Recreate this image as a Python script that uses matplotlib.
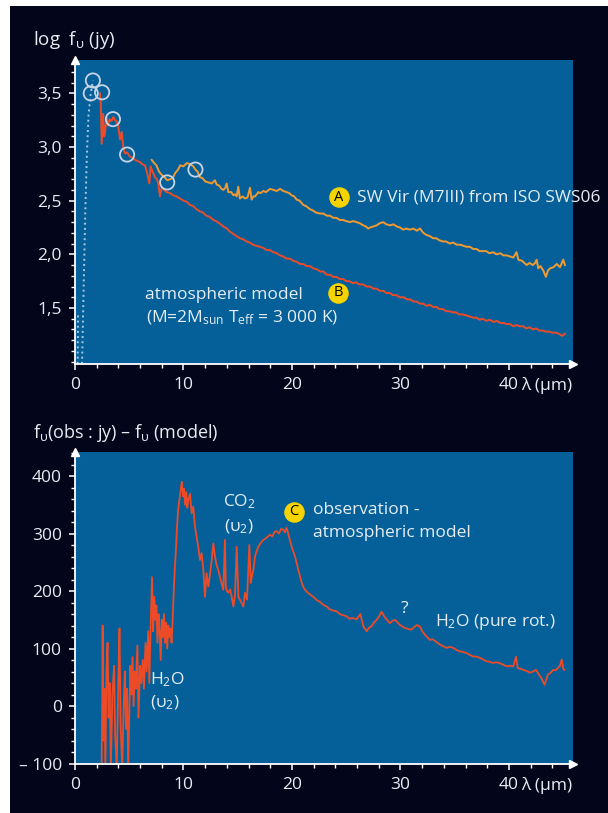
import matplotlib
matplotlib.use("Agg")
import matplotlib.pyplot as plt
from matplotlib.patches import Rectangle

plt.rcParams['font.family'] = ['Open Sans', 'DejaVu Sans']
plt.rcParams['mathtext.fontset'] = 'custom'
plt.rcParams['mathtext.rm'] = 'Open Sans'
plt.rcParams['mathtext.it'] = 'Open Sans:italic'
plt.rcParams['mathtext.bf'] = 'Open Sans:bold'
plt.rcParams['mathtext.default'] = 'regular'

# --- SW Vir, ISO SWS06 spectrum (log f_nu, Jy) ---
obs_wl = [7.07, 7.3, 7.5, 7.75, 8.0, 8.25, 8.5, 8.75, 9.0, 9.25, 9.5, 9.7, 10.0, 10.3,
          10.6, 10.9, 11.1, 11.3, 11.5, 11.75, 12.0, 12.3, 12.6, 12.9, 13.06, 13.3, 13.5,
          13.67, 13.85, 13.98, 14.13, 14.4, 14.6, 14.75, 14.9, 15.05, 15.2, 15.45, 15.67,
          15.9, 16.13, 16.28, 16.45, 16.6, 16.9, 17.1, 17.36, 17.6, 17.97, 18.3, 18.59,
          18.9, 19.2, 19.5, 19.75, 19.97, 20.2, 20.43, 20.7, 21.04, 21.3, 21.66, 21.9,
          22.2, 22.58, 22.9, 23.2, 23.5, 23.8, 24.1, 24.42, 24.7, 25.0, 25.35, 25.65,
          25.96, 26.25, 26.57, 26.8, 27.03, 27.2, 27.5, 27.8, 28.1, 28.41, 28.7, 29.03,
          29.35, 29.65, 29.95, 30.26, 30.55, 30.88, 31.2, 31.5, 31.8, 32.1, 32.4, 32.7,
          33.0, 33.3, 33.6, 33.9, 34.2, 34.56, 34.85, 35.18, 35.5, 35.8, 36.1, 36.4, 36.7,
          37.0, 37.3, 37.6, 37.9, 38.2, 38.55, 38.85, 39.2, 39.5, 39.8, 40.1, 40.4, 40.7,
          40.86, 41.2, 41.63, 41.9, 42.2, 42.4, 42.55, 42.7, 42.9, 43.16, 43.4, 43.6, 43.8,
          44.1, 44.4, 44.7, 45.0, 45.16]
obs_logf = [2.88, 2.85, 2.83, 2.77, 2.74, 2.72, 2.69, 2.70, 2.71, 2.76, 2.79, 2.83, 2.82,
            2.85, 2.84, 2.82, 2.79, 2.77, 2.72, 2.71, 2.68, 2.67, 2.66, 2.69, 2.65, 2.64,
            2.61, 2.60, 2.62, 2.66, 2.58, 2.58, 2.55, 2.56, 2.54, 2.63, 2.52, 2.54, 2.52,
            2.53, 2.62, 2.51, 2.54, 2.54, 2.58, 2.57, 2.59, 2.58, 2.61, 2.60, 2.59, 2.61,
            2.59, 2.58, 2.57, 2.55, 2.54, 2.51, 2.50, 2.46, 2.45, 2.42, 2.41, 2.39, 2.38,
            2.38, 2.36, 2.36, 2.34, 2.34, 2.32, 2.32, 2.31, 2.30, 2.31, 2.30, 2.29, 2.27,
            2.26, 2.24, 2.25, 2.26, 2.27, 2.29, 2.30, 2.28, 2.27, 2.28, 2.26, 2.25, 2.23,
            2.24, 2.23, 2.24, 2.22, 2.24, 2.20, 2.18, 2.17, 2.15, 2.15, 2.13, 2.12, 2.12,
            2.10, 2.11, 2.09, 2.09, 2.08, 2.07, 2.07, 2.05, 2.05, 2.03, 2.03, 2.03, 2.01,
            2.02, 2.00, 2.01, 1.99, 1.99, 1.98, 1.97, 2.02, 1.95, 1.94, 1.90, 1.92, 1.90,
            1.92, 1.95, 1.87, 1.89, 1.85, 1.79, 1.85, 1.87, 1.88, 1.91, 1.88, 1.95, 1.90]

# --- atmospheric model (M = 2 Msun, Teff = 3000 K) ---
mod_wl = [2.3, 2.38, 2.46, 2.6, 2.68, 2.76, 2.85, 2.92, 3.05, 3.2, 3.35, 3.53, 3.7, 3.84,
          3.99, 4.15, 4.3, 4.45, 4.6, 4.8, 5.07, 5.3, 5.53, 5.75, 6.0, 6.2, 6.45, 6.67,
          6.85, 6.97, 7.15, 7.37, 7.55, 7.68, 7.83, 7.99, 8.2, 8.45, 8.75, 9.06, 9.35,
          9.68, 10.0, 10.3, 10.6, 10.9, 11.2, 11.52, 11.8, 12.1, 12.4, 12.75, 13.0, 13.3,
          13.67, 14.0, 14.3, 14.6, 14.9, 15.2, 15.5, 15.82, 16.1, 16.4, 16.7, 17.05, 17.35,
          17.65, 17.95, 18.28, 18.6, 18.9, 19.2, 19.5, 19.8, 20.1, 20.45, 20.74, 21.05,
          21.35, 21.65, 21.96, 22.3, 22.6, 22.9, 23.2, 23.5, 23.8, 24.1, 24.4, 24.7, 25.0,
          25.3, 25.6, 25.9, 26.2, 26.55, 26.9, 27.2, 27.5, 27.8, 28.1, 28.4, 28.7, 29.0,
          29.3, 29.6, 29.95, 30.3, 30.6, 30.9, 31.2, 31.5, 31.8, 32.1, 32.4, 32.7, 33.0,
          33.3, 33.6, 33.9, 34.2, 34.5, 34.8, 35.1, 35.4, 35.7, 36.1, 36.4, 36.7, 37.0,
          37.3, 37.6, 37.9, 38.2, 38.6, 38.9, 39.2, 39.5, 39.8, 40.1, 40.4, 40.7, 41.0,
          41.3, 41.6, 41.9, 42.2, 42.5, 42.8, 43.1, 43.4, 43.7, 44.0, 44.3, 44.6, 44.9,
          45.16]
mod_logf = [3.50, 3.40, 3.03, 3.31, 3.10, 3.13, 3.22, 3.28, 3.20, 3.26, 3.24, 3.28, 3.25,
            3.24, 3.19, 3.07, 3.14, 3.00, 2.94, 2.95, 2.91, 2.90, 2.88, 2.87, 2.86, 2.84,
            2.83, 2.75, 2.66, 2.82, 2.77, 2.72, 2.70, 2.66, 2.54, 2.62, 2.60, 2.58, 2.57,
            2.55, 2.54, 2.52, 2.50, 2.49, 2.46, 2.45, 2.42, 2.40, 2.39, 2.36, 2.35, 2.32,
            2.31, 2.29, 2.26, 2.24, 2.21, 2.19, 2.17, 2.15, 2.14, 2.12, 2.11, 2.09, 2.08,
            2.07, 2.06, 2.04, 2.04, 2.02, 2.01, 1.99, 1.98, 1.96, 1.96, 1.94, 1.93, 1.91,
            1.91, 1.89, 1.89, 1.87, 1.86, 1.84, 1.84, 1.81, 1.81, 1.79, 1.79, 1.77, 1.77,
            1.75, 1.75, 1.73, 1.74, 1.72, 1.72, 1.70, 1.70, 1.68, 1.68, 1.66, 1.66, 1.64,
            1.64, 1.62, 1.62, 1.60, 1.60, 1.58, 1.58, 1.56, 1.56, 1.54, 1.54, 1.52, 1.53,
            1.51, 1.51, 1.49, 1.49, 1.47, 1.47, 1.46, 1.46, 1.44, 1.44, 1.43, 1.42, 1.41,
            1.41, 1.39, 1.40, 1.38, 1.39, 1.37, 1.38, 1.36, 1.36, 1.35, 1.35, 1.33, 1.34,
            1.33, 1.33, 1.31, 1.32, 1.30, 1.31, 1.29, 1.29, 1.28, 1.28, 1.27, 1.27, 1.26,
            1.24, 1.26]

# near-infrared photometry (circled) and the dotted short-wavelength branch
phot_wl = [1.45, 1.65, 2.5, 3.5, 4.8, 8.5, 11.1]
phot_logf = [3.50, 3.62, 3.51, 3.26, 2.93, 2.67, 2.79]
dot1_wl = [0.65, 0.8, 0.95, 1.1, 1.25, 1.45, 1.65]
dot1_logf = [0.98, 1.7, 2.4, 2.95, 3.3, 3.50, 3.62]
dot2_wl = [0.25, 0.28]
dot2_logf = [0.98, 1.45]

# --- observation minus model (Jy) ---
diff_wl = [2.45, 2.5, 2.55, 2.62, 2.7, 2.8, 2.9, 3.0, 3.1, 3.2, 3.3, 3.45, 3.6, 3.7, 3.85,
           4.0, 4.1, 4.2, 4.35, 4.5, 4.6, 4.7, 4.8, 4.9, 5.0, 5.1, 5.2, 5.3, 5.4, 5.5, 5.6,
           5.75, 5.85, 6.0, 6.1, 6.25, 6.35, 6.5, 6.6, 6.75, 6.85, 7.0, 7.1, 7.2, 7.3, 7.4,
           7.5, 7.6, 7.7, 7.8, 7.9, 8.0, 8.1, 8.2, 8.3, 8.4, 8.5, 8.6, 8.7, 8.8, 8.9, 9.0,
           9.1, 9.2, 9.3, 9.4, 9.5, 9.6, 9.7, 9.8, 9.85, 9.95, 10.05, 10.15, 10.25, 10.35,
           10.45, 10.6, 10.75, 10.9, 11.06, 11.2, 11.36, 11.52, 11.67, 11.83, 11.98, 12.13,
           12.29, 12.45, 12.6, 12.75, 12.9, 13.05, 13.2, 13.35, 13.52, 13.67, 13.82, 13.9,
           14.0, 14.13, 14.3, 14.44, 14.6, 14.75, 14.9, 15.06, 15.2, 15.36, 15.52, 15.67,
           15.85, 16.07, 16.2, 16.3, 16.44, 16.59, 16.75, 16.9, 17.1, 17.36, 17.6, 17.97,
           18.2, 18.4, 18.59, 18.8, 19.0, 19.2, 19.35, 19.5, 19.65, 19.8, 20.0, 20.28,
           20.58, 20.9, 21.1, 21.35, 21.6, 21.96, 22.3, 22.58, 22.9, 23.2, 23.5, 23.8,
           24.1, 24.4, 24.7, 25.04, 25.3, 25.6, 25.96, 26.3, 26.57, 26.88, 27.1, 27.34,
           27.55, 27.8, 28.0, 28.26, 28.5, 28.7, 29.03, 29.25, 29.5, 29.75, 29.95, 30.2,
           30.4, 30.7, 31.0, 31.25, 31.5, 31.8, 32.0, 32.26, 32.5, 32.7, 32.95, 33.2, 33.4,
           33.64, 33.95, 34.26, 34.55, 34.87, 35.2, 35.48, 35.8, 36.1, 36.4, 36.7, 37.0,
           37.3, 37.6, 37.9, 38.2, 38.5, 38.8, 39.1, 39.45, 39.8, 40.1, 40.4, 40.65, 40.8,
           41.05, 41.3, 41.6, 41.94, 42.2, 42.5, 42.75, 42.97, 43.28, 43.6, 43.85, 44.1,
           44.3, 44.5, 44.7, 44.86, 45.0, 45.1]
diff_jy = [-110, -10, 140, -60, 30, -110, 60, 110, -20, 40, -110, 20, 70, -50, -110,
           50, 135, -30, -110, 10, 60, -40, 30, -110, -20, 70, 20, 85, 0, 60, 30,
           105, -20, 70, 40, 80, 30, 110, 60, 130, 40, 160, 224, 130, 190, 150,
           175, 110, 160, 130, 80, 150, 120, 160, 110, 145, 100, 140, 120, 135, 110, 150,
           200, 240, 270, 310, 340, 355, 370, 385, 390, 365, 378, 350, 372, 345,
           360, 369, 335, 347, 312, 295, 277, 254, 266, 237, 190, 231,
           208, 230, 254, 283, 260, 245, 237, 225, 213, 202, 289, 208,
           200, 197, 203, 190, 173, 195, 277, 190, 185, 179, 173, 197,
           185, 280, 214, 225, 237, 260, 270, 277, 283, 289, 292, 298,
           295, 303, 304, 300, 308, 307, 302, 310, 300, 289, 275, 260,
           237, 214, 205, 199, 195, 190, 184, 181, 176, 173, 168, 166,
           165, 160, 158, 156, 152, 153, 151, 160, 139, 130, 136, 139,
           145, 150, 155, 164, 156, 151, 144, 148, 150, 145, 141, 138,
           136, 134, 133, 137, 141, 138, 130, 124, 119, 115, 116, 113, 110,
           107, 104, 101, 103, 101, 97, 95, 94, 92, 89, 86, 86,
           84, 81, 78, 77, 75, 76, 75, 72, 69, 70, 69, 86, 66,
           65, 63, 61, 58, 60, 63, 55, 49, 37, 55, 58, 63,
           62, 66, 70, 81, 65, 63]

top_yticks = [1.5, 2.0, 2.5, 3.0, 3.5]
top_yticklabels = ['1,5', '2,0', '2,5', '3,0', '3,5']
bot_yticks = [-100, 0, 100, 200, 300, 400]
bot_yticklabels = ['\u2013 100', '0', '100', '200', '300', '400']
xticks = [0, 10, 20, 30, 40]
xticklabels = ['0', '10', '20', '30', '40']

W, H = 608, 813
BG = '#03061a'
PANEL = '#05609a'
TXT = '#e6edf3'
ORANGE = '#f29a30'
RED = '#ec4b27'
YELLOW = '#f6d400'

fig = plt.figure(figsize=(W / 100, H / 100), dpi=100)
fig.patch.set_facecolor('white')
fig.add_artist(Rectangle((10 / W, 0), 1, 1 - 6 / H, transform=fig.transFigure,
                         facecolor=BG, edgecolor='none', zorder=0))

ax1 = fig.add_axes([75 / W, (H - 364) / H, 498 / W, 304 / H])
ax2 = fig.add_axes([75 / W, (H - 763.5) / H, 498 / W, 311 / H])


def style_axes(ax):
    ax.set_facecolor(PANEL)
    for s in ('top', 'right'):
        ax.spines[s].set_visible(False)
    for s in ('left', 'bottom'):
        ax.spines[s].set_color('white')
        ax.spines[s].set_linewidth(1.3)
    ax.tick_params(which='both', colors='white', direction='out', labelcolor=TXT,
                   labelsize=12.5)
    ax.tick_params(which='major', length=4.5, width=1.1, pad=5)
    ax.tick_params(which='minor', length=3, width=1.0)
    ax.set_xlim(0, 45.9)
    ax.set_xticks(xticks)
    ax.set_xticklabels(xticklabels)
    ax.set_xticks(range(0, 46, 2), minor=True)
    # arrow heads on both axes
    ax.plot(1, 0, '>', ms=6, color='white', transform=ax.transAxes, clip_on=False)
    ax.plot(0, 1, '^', ms=6, color='white', transform=ax.transAxes, clip_on=False)
    ax.annotate('\u03bb (\u00b5m)', xy=(41.1, 0), xycoords=('data', 'axes fraction'),
                xytext=(0, -9.5), textcoords='offset points', ha='left', va='top',
                color=TXT, fontsize=12.5, annotation_clip=False)


style_axes(ax1)
style_axes(ax2)

# top panel: spectra
ax1.set_ylim(0.978, 3.811)
ax1.set_yticks(top_yticks)
ax1.set_yticklabels(top_yticklabels)
ax1.set_yticks([1.0 + 0.1 * i for i in range(28)], minor=True)
ax1.plot(dot1_wl, dot1_logf, ':', color='#a9c9e2', lw=1.4)
ax1.plot(dot2_wl, dot2_logf, ':', color='#a9c9e2', lw=1.4)
ax1.plot(mod_wl, mod_logf, color=RED, lw=1.4)
ax1.plot(obs_wl, obs_logf, color=ORANGE, lw=1.4)
ax1.scatter(phot_wl, phot_logf, s=105, facecolors='none', edgecolors='#c6d4e4',
            linewidths=1.3, zorder=5)

fig.text(33 / W, 1 - 40 / H, 'log  f$_{\u03c5}$ (jy)', color=TXT, fontsize=13.5,
         ha='left', va='center')

ax1.scatter([24.33], [2.534], s=190, color=YELLOW, zorder=6)
ax1.text(24.33, 2.534, 'A', color='black', fontsize=10.5, ha='center', va='center', zorder=7)
ax1.text(26.0, 2.53, 'SW Vir (M7III) from ISO SWS06', color=TXT, fontsize=12.5,
         ha='left', va='center')
ax1.scatter([24.24], [1.64], s=190, color=YELLOW, zorder=6)
ax1.text(24.24, 1.64, 'B', color='black', fontsize=10.5, ha='center', va='center', zorder=7)
ax1.text(6.45, 1.625, 'atmospheric model', color=TXT, fontsize=12.5, ha='left', va='center')
ax1.text(6.55, 1.41, '(M=2M$_{sun}$ T$_{eff}$ = 3 000 K)', color=TXT, fontsize=12.5,
         ha='left', va='center')

# bottom panel: residual
ax2.set_ylim(-100, 441)
ax2.set_yticks(bot_yticks)
ax2.set_yticklabels(bot_yticklabels)
ax2.set_yticks(range(-100, 441, 20), minor=True)
ax2.plot(diff_wl, diff_jy, color=RED, lw=1.3)

fig.text(33 / W, 1 - 433 / H, 'f$_{\u03c5}$(obs : jy) \u2013 f$_{\u03c5}$ (model)',
         color=TXT, fontsize=13, ha='left', va='center')

ax2.text(13.64, 355, 'CO$_2$', color=TXT, fontsize=12.5, ha='left', va='center')
ax2.text(13.7, 312, '(\u03c5$_2$)', color=TXT, fontsize=12.5, ha='left', va='center')
ax2.scatter([20.18], [338], s=190, color=YELLOW, zorder=6)
ax2.text(20.18, 338, 'C', color='black', fontsize=10.5, ha='center', va='center', zorder=7)
ax2.text(21.94, 341, 'observation -', color=TXT, fontsize=12.5, ha='left', va='center')
ax2.text(21.94, 301, 'atmospheric model', color=TXT, fontsize=12.5, ha='left', va='center')
ax2.text(30.4, 168, '?', color=TXT, fontsize=12.5, ha='center', va='center')
ax2.text(33.2, 147, 'H$_2$O (pure rot.)', color=TXT, fontsize=12.5, ha='left', va='center')
ax2.text(6.9, 46, 'H$_2$O', color=TXT, fontsize=12.5, ha='left', va='center')
ax2.text(6.9, 6, '(\u03c5$_2$)', color=TXT, fontsize=12.5, ha='left', va='center')

fig.savefig('out.png', dpi=100, facecolor=fig.get_facecolor())
